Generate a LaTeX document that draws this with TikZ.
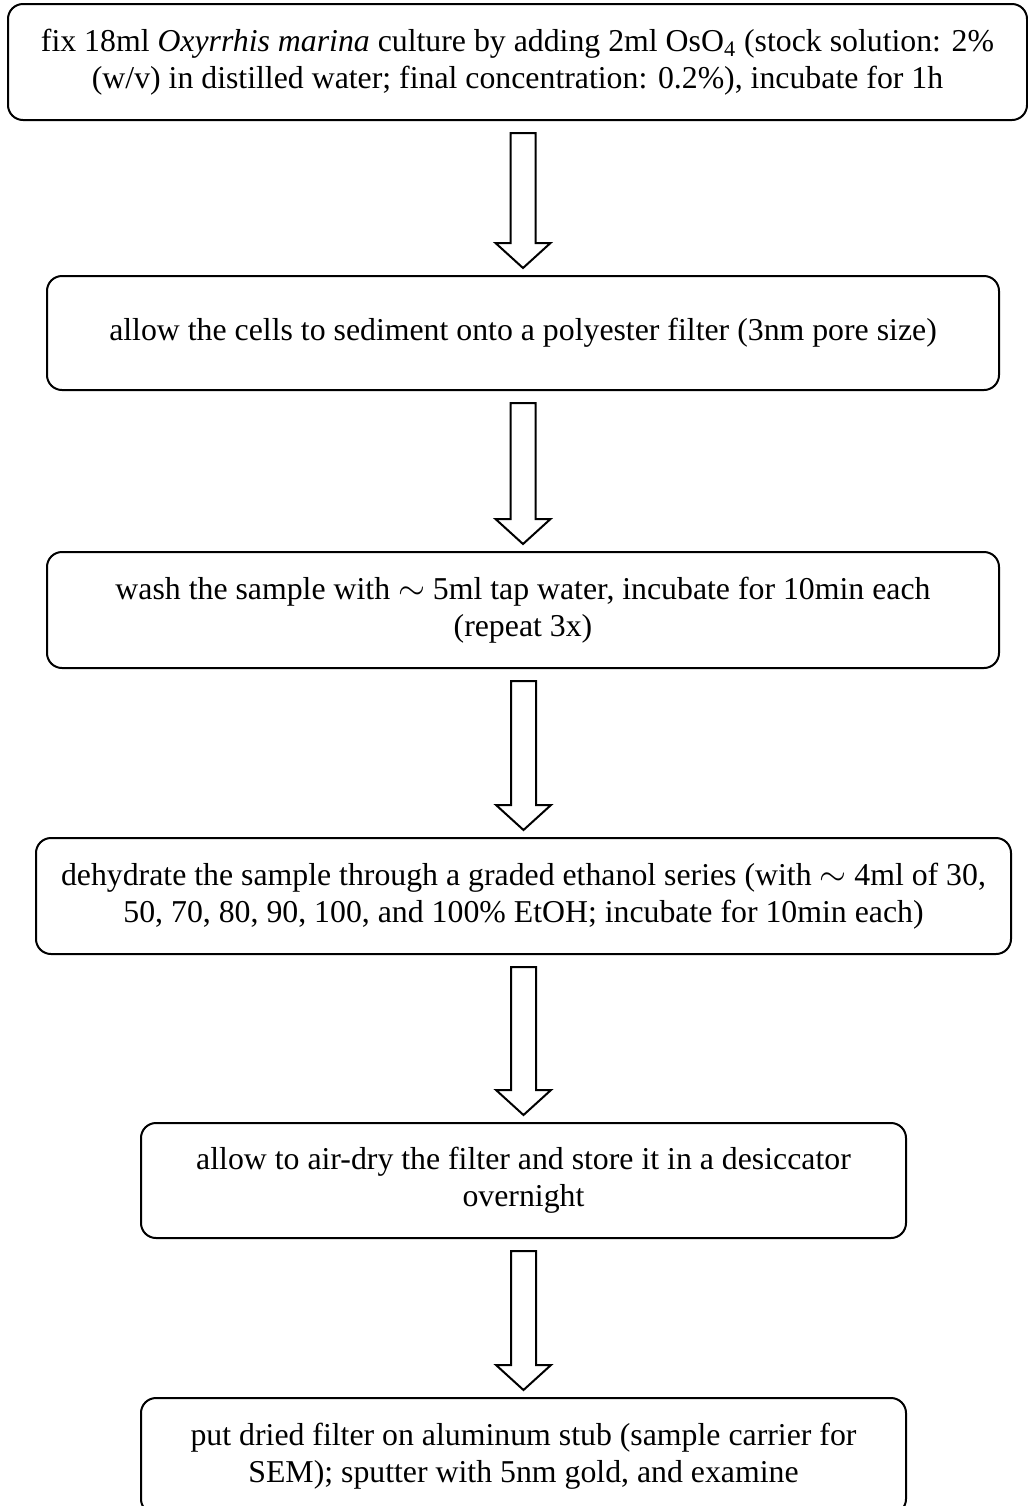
\documentclass[tikz,border=0pt]{standalone}
\usepackage{fontspec}
\setmainfont{Liberation Serif}
\usetikzlibrary{calc}

\tikzset{
  stepbox/.style={draw, line width=1pt, rounded corners=7.5pt, align=center,
    inner sep=0pt, font=\fontsize{15.9}{18.3}\selectfont},
  blockarrow/.style={draw, line width=1pt, fill=white, line join=miter}
}

% hollow block arrow from the bottom of #1 to the top of #2
\newcommand\flowarrow[2]{%
  \coordinate (s) at ($(#2.north |- #1.south)+(0,12)$);
  \coordinate (t) at ($(#2.north)+(0,-7)$);
  \draw[blockarrow] ($(s)+(-12.5,0)$) -- ($(s)+(12.5,0)$) -- ($(t)+(12.5,-25)$)
    -- ($(t)+(27.5,-25)$) -- (t) -- ($(t)+(-27.5,-25)$) -- ($(t)+(-12.5,-25)$) -- cycle;
}

\begin{document}
\begin{tikzpicture}[x=0.5pt, y=-0.5pt]
\useasboundingbox (0,0) rectangle (1028,1506);

\node[stepbox, minimum width=509.5pt, minimum height=58pt] (fix) at (517.5,62)
  {fix 18ml \textit{Oxyrrhis marina} culture by adding 2ml OsO\textsubscript{4} (stock solution: 2\%\\
   (w/v) in distilled water; final concentration: 0.2\%), incubate for 1h};

\node[stepbox, minimum width=476pt, minimum height=57pt] (sed) at (523,333)
  {allow the cells to sediment onto a polyester filter (3nm pore size)};

\node[stepbox, minimum width=476pt, minimum height=58pt] (wash) at (523,610)
  {wash the sample with $\sim$ 5ml tap water, incubate for 10min each\\ (repeat 3x)};

\node[stepbox, minimum width=487.5pt, minimum height=58pt] (dehyd) at (523.5,896)
  {dehydrate the sample through a graded ethanol series (with $\sim$ 4ml of 30,\\
   50, 70, 80, 90, 100, and 100\% EtOH; incubate for 10min each)};

\node[stepbox, minimum width=382.5pt, minimum height=57.5pt] (dry) at (523.5,1180.5)
  {allow to air-dry the filter and store it in a desiccator\\ overnight};

\node[stepbox, minimum width=382.5pt, minimum height=58pt] (stub) at (523.5,1456)
  {put dried filter on aluminum stub (sample carrier for\\ SEM); sputter with 5nm gold, and examine};

\flowarrow{fix}{sed}
\flowarrow{sed}{wash}
\flowarrow{wash}{dehyd}
\flowarrow{dehyd}{dry}
\flowarrow{dry}{stub}
\end{tikzpicture}
\end{document}
